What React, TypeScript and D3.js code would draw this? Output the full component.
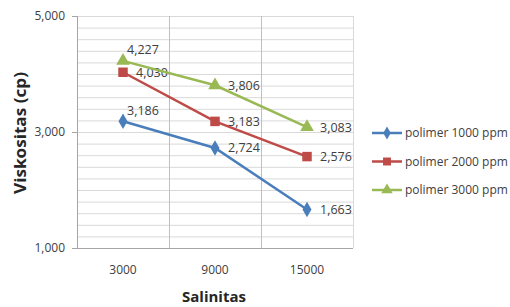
import { useEffect, useRef } from "react";
import * as d3 from "d3";

const categories = ["3000", "9000", "15000"];
const seriesNames = ["polimer 1000 ppm", "polimer 2000 ppm", "polimer 3000 ppm"];
const polimer1000 = [3186, 2724, 1663];
const polimer2000 = [4030, 3183, 2576];
const polimer3000 = [4227, 3806, 3083];
const yTicks = [1000, 3000, 5000];
// where each data label sits relative to its point
const labelPlace1000 = ["above", "right", "right"];
const labelPlace2000 = ["right", "right", "right"];
const labelPlace3000 = ["above", "right", "right"];

const colors = ["#4a7ebb", "#be4b48", "#98b954"];
const markers = [d3.symbolDiamond, d3.symbolSquare, d3.symbolTriangle];
const markerSizes = [70, 90, 80];

export default function App() {
  const svgRef = useRef<SVGSVGElement | null>(null);

  useEffect(() => {
    const W = 510, H = 307;
    const margin = { top: 16, right: 157, bottom: 59, left: 77 };
    const width = W - margin.left - margin.right;
    const height = H - margin.top - margin.bottom;
    const font = "'Open Sans', 'Liberation Sans', sans-serif";

    const svg = d3.select(svgRef.current);
    svg.selectAll("*").remove();
    svg.attr("width", W).attr("height", H).style("background", "#fff");

    const g = svg.append("g").attr("transform", `translate(${margin.left},${margin.top})`);

    const x = d3.scaleBand().domain(categories).range([0, width]);
    const y = d3.scaleLinear().domain([1000, 5000]).range([height, 0]);

    // minor gridlines
    g.append("g").selectAll("line")
      .data(d3.range(1000, 5001, 200))
      .join("line")
      .attr("x1", 0).attr("x2", width)
      .attr("y1", d => y(d) + 0.5).attr("y2", d => y(d) + 0.5)
      .attr("stroke", "#d9d9d9").attr("stroke-width", 1);

    // vertical gridlines at category boundaries
    g.append("g").selectAll("line")
      .data(categories.slice(1).concat(["end"]))
      .join("line")
      .attr("x1", (d, i) => (i + 1) * x.bandwidth() + 0.5)
      .attr("x2", (d, i) => (i + 1) * x.bandwidth() + 0.5)
      .attr("y1", 0).attr("y2", height)
      .attr("stroke", (d, i) => i === 2 ? "#d9d9d9" : "#bfbfbf");

    // axes
    g.append("line").attr("x1", -5).attr("x2", width).attr("y1", height + 0.5).attr("y2", height + 0.5).attr("stroke", "#a6a6a6");
    g.append("line").attr("x1", 0.5).attr("x2", 0.5).attr("y1", 0).attr("y2", height).attr("stroke", "#a6a6a6");
    g.append("g").selectAll("line").data(yTicks).join("line")
      .attr("x1", -5).attr("x2", 0).attr("y1", d => y(d) + 0.5).attr("y2", d => y(d) + 0.5).attr("stroke", "#a6a6a6");

    g.append("g").selectAll("text").data(yTicks).join("text")
      .attr("x", -12).attr("y", d => y(d)).attr("dy", "0.35em")
      .attr("text-anchor", "end")
      .style("font", `12px ${font}`).attr("fill", "#404040")
      .text(d => d3.format(",")(d));

    g.append("g").selectAll("text").data(categories).join("text")
      .attr("x", d => (x(d) as number) + x.bandwidth() / 2).attr("y", height + 22)
      .attr("dy", "0.35em").attr("text-anchor", "middle")
      .style("font", `12px ${font}`).attr("fill", "#404040")
      .text(d => d);

    svg.append("text")
      .attr("x", margin.left + width / 2 - 1).attr("y", 297).attr("dy", "0.35em")
      .attr("text-anchor", "middle")
      .style("font", `bold 15px ${font}`).attr("fill", "#262626")
      .text("Salinitas");

    svg.append("text")
      .attr("transform", `translate(20,${margin.top + y(3000) + 1}) rotate(-90)`)
      .attr("dy", "0.35em").attr("text-anchor", "middle")
      .attr("textLength", 122).attr("lengthAdjust", "spacingAndGlyphs")
      .style("font", `bold 16px ${font}`).attr("fill", "#262626")
      .text("Viskositas (cp)");

    const allSeries = [polimer1000, polimer2000, polimer3000];
    const places = [labelPlace1000, labelPlace2000, labelPlace3000];
    const cx = (i: number) => (x(categories[i]) as number) + x.bandwidth() / 2;

    const line = d3.line<number>().x((d, i) => cx(i)).y(d => y(d));

    allSeries.forEach((vals, s) => {
      g.append("path").datum(vals)
        .attr("fill", "none").attr("stroke", colors[s]).attr("stroke-width", 2.5)
        .attr("d", line);

      g.append("g").selectAll("path").data(vals).join("path")
        .attr("transform", (d, i) => `translate(${cx(i)},${y(d)})`)
        .attr("d", d3.symbol().type(markers[s]).size(markerSizes[s]))
        .attr("fill", colors[s]);

      g.append("g").selectAll("text").data(vals).join("text")
        .attr("x", (d, i) => cx(i) + (places[s][i] === "above" ? 4 : 13))
        .attr("y", (d, i) => y(d) + (places[s][i] === "above" ? -11 : 0))
        .attr("dy", "0.35em")
        .style("font", `12.5px ${font}`).attr("fill", "#404040")
        .text(d => d3.format(",")(d));
    });

    // legend
    const legend = svg.append("g").attr("transform", "translate(372,133)");
    seriesNames.forEach((name, s) => {
      const row = legend.append("g").attr("transform", `translate(0,${s * 28.5})`);
      row.append("line").attr("x1", 0).attr("x2", 30).attr("y1", 0).attr("y2", 0)
        .attr("stroke", colors[s]).attr("stroke-width", 2.5);
      row.append("path").attr("transform", "translate(15,0)")
        .attr("d", d3.symbol().type(markers[s]).size(markerSizes[s] * 0.7))
        .attr("fill", colors[s]);
      row.append("text").attr("x", 33).attr("y", 0).attr("dy", "0.35em")
        .style("font", `12px ${font}`).attr("fill", "#404040")
        .text(name);
    });
  }, []);

  return (
    <div style={{ position: "absolute", left: 0, top: 0 }}>
      <svg ref={svgRef}></svg>
    </div>
  );
}
